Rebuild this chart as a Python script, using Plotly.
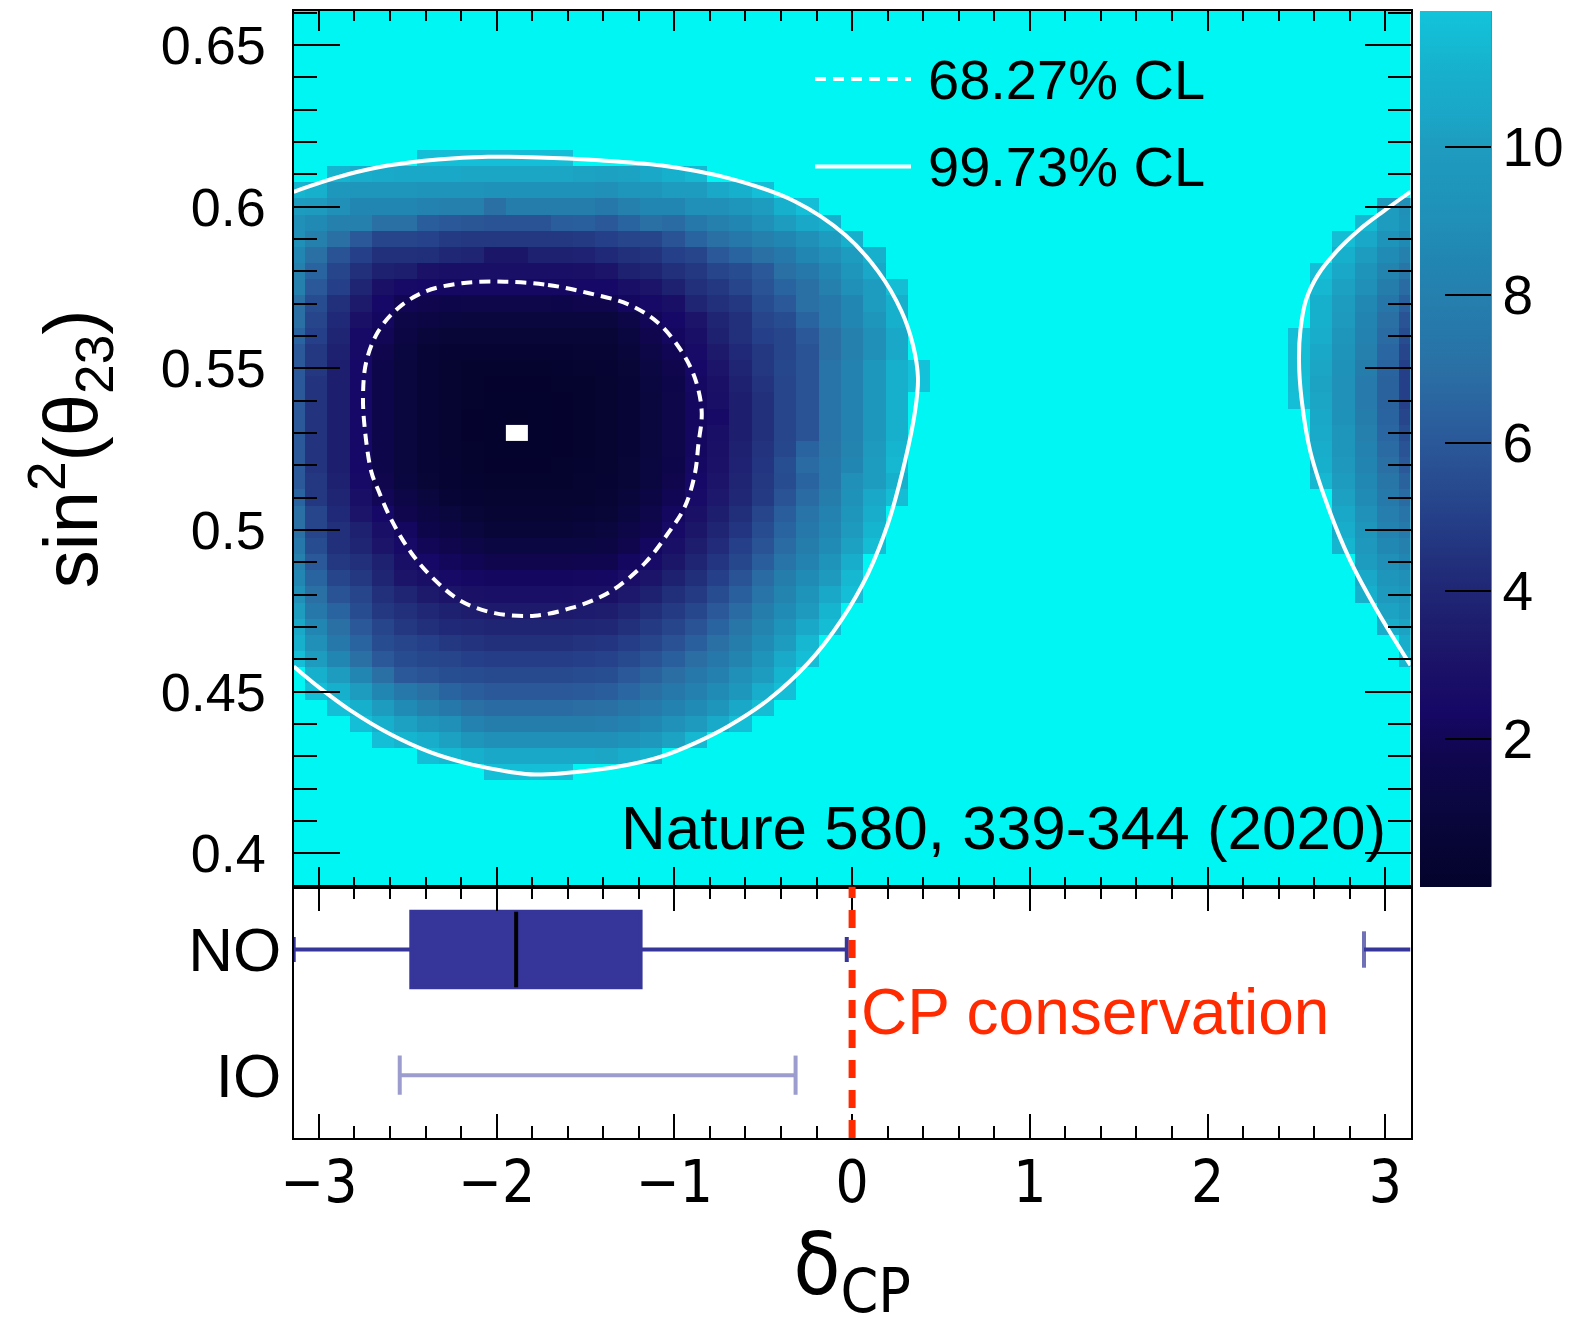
import numpy as np
import plotly.graph_objects as go

W, H = 1582, 1326
FONT = "Liberation Sans, Arial, Helvetica, sans-serif"
NARROW = "Liberation Sans Narrow, Arial Narrow, DejaVu Sans Condensed, Liberation Sans, sans-serif"
CYAN = "#00F6F2"
BOXBLUE = "#35359A"
IOCOLOR = "#9C9CCF"
RED = "#FF2A00"

# ---------------- data ----------------
# bin centres of the delta_CP x sin^2(theta23) grid
dcp_centers = np.linspace(-np.pi, np.pi, 51)
s23_centers = [round(0.39 + 0.005 * j, 3) for j in range(55)]

# delta chi^2 values (left region): y -> (first column, values)
left_rows = {
    0.615: (6, [11.6, 11.6, 11.6, 11.6, 11.6, 11.6, 11.6]),
    0.61: (2, [11.2, 10.8, 10.6, 10.5, 10.5, 10.5, 10.4, 10.4, 10.4, 10.4, 10.4, 10.3, 10.2, 10.3, 10.5, 11.0, 11.3]),
    0.605: (0, [11.2, 11.0, 9.6, 9.5, 9.5, 9.4, 9.3, 9.3, 9.3, 9.2, 9.2, 9.2, 9.2, 9.2, 9.0, 9.4, 9.5, 10.0, 10.0, 10.5, 11.0, 11.6]),
    0.6: (0, [10.0, 9.8, 9.0, 8.5, 8.5, 8.5, 8.2, 8.0, 8.0, 7.0, 7.8, 7.8, 7.8, 7.8, 7.5, 8.0, 8.5, 8.5, 9.0, 9.0, 9.5, 10.0, 11.0, 11.6]),
    0.595: (0, [9.0, 8.7, 8.0, 8.0, 7.0, 7.0, 6.2, 6.0, 5.9, 5.8, 5.8, 5.8, 6.2, 6.3, 6.0, 6.5, 7.0, 6.8, 7.5, 8.0, 8.5, 9.0, 10.0, 10.5, 11.0]),
    0.59: (0, [9.0, 8.0, 7.0, 6.0, 5.2, 5.2, 5.1, 4.8, 4.7, 4.7, 4.7, 4.7, 4.7, 4.8, 5.0, 5.2, 5.2, 5.8, 6.5, 7.0, 7.5, 8.0, 8.5, 9.0, 10.0, 11.0]),
    0.585: (0, [8.5, 7.0, 5.8, 5.0, 4.4, 4.4, 4.3, 4.0, 3.9, 3.2, 3.2, 3.7, 3.7, 3.8, 4.1, 4.4, 4.5, 5.0, 5.2, 6.0, 6.5, 7.0, 7.5, 8.5, 9.0, 10.0, 11.0]),
    0.58: (0, [8.0, 6.5, 5.2, 4.4, 3.7, 3.6, 3.0, 2.8, 2.8, 2.8, 2.8, 2.8, 2.8, 2.9, 3.1, 3.7, 3.9, 4.4, 4.7, 5.2, 5.5, 6.0, 7.0, 7.5, 8.5, 9.5, 10.5]),
    0.575: (0, [8.0, 6.0, 5.0, 3.9, 2.9, 2.5, 2.4, 2.3, 2.3, 2.3, 2.3, 2.3, 2.3, 2.4, 2.4, 2.8, 3.1, 3.7, 4.4, 4.7, 5.2, 5.8, 6.5, 7.0, 8.0, 9.0, 10.0, 11.5]),
    0.57: (0, [7.0, 5.5, 4.4, 3.4, 2.4, 1.9, 1.7, 1.6, 1.5, 1.5, 1.5, 1.5, 1.6, 1.7, 1.7, 2.2, 2.5, 2.8, 3.9, 4.4, 4.7, 5.5, 6.0, 7.0, 7.5, 8.5, 10.0, 11.0]),
    0.565: (0, [7.0, 5.2, 4.1, 2.9, 2.2, 1.4, 1.3, 1.1, 1.0, 1.0, 1.0, 1.0, 1.0, 1.0, 1.0, 1.4, 2.0, 2.4, 3.1, 3.9, 4.4, 5.2, 5.5, 6.5, 7.5, 8.5, 9.5, 11.0]),
    0.56: (0, [6.5, 5.0, 3.9, 2.5, 2.0, 1.3, 0.9, 0.7, 0.7, 0.7, 0.7, 0.7, 0.7, 0.7, 0.7, 1.1, 1.7, 2.2, 2.8, 3.7, 4.4, 5.0, 5.2, 6.0, 7.0, 8.0, 9.0, 10.5]),
    0.555: (0, [6.0, 4.7, 3.7, 2.5, 1.7, 1.1, 0.6, 0.4, 0.4, 0.4, 0.4, 0.4, 0.4, 0.45, 0.5, 0.9, 1.4, 1.9, 2.6, 3.4, 4.1, 4.7, 5.2, 5.8, 7.0, 8.0, 9.0, 10.5]),
    0.55: (0, [6.0, 4.7, 3.6, 2.4, 1.6, 1.0, 0.6, 0.3, 0.2, 0.2, 0.2, 0.2, 0.25, 0.3, 0.4, 0.7, 1.2, 1.7, 2.4, 3.1, 3.9, 4.7, 5.3, 5.8, 7.2, 8.2, 9.6, 11.0, 11.7]),
    0.545: (0, [6.0, 4.5, 3.6, 2.4, 1.6, 1.0, 0.6, 0.35, 0.2, 0.1, 0.1, 0.1, 0.15, 0.2, 0.3, 0.6, 1.1, 1.6, 2.3, 2.9, 3.7, 4.5, 5.2, 5.8, 7.2, 8.2, 9.6, 11.0, 11.7]),
    0.54: (0, [6.0, 4.5, 3.6, 2.4, 1.6, 1.0, 0.6, 0.35, 0.15, 0.05, 0.05, 0.05, 0.1, 0.2, 0.3, 0.6, 1.0, 1.5, 2.2, 2.8, 3.6, 4.4, 5.2, 5.8, 7.2, 8.2, 9.6, 11.0]),
    0.535: (0, [6.0, 4.5, 3.6, 2.4, 1.6, 1.0, 0.6, 0.3, 0.1, 0.05, 0.02, 0.05, 0.1, 0.2, 0.3, 0.6, 1.0, 1.5, 2.2, 2.5, 3.6, 4.4, 5.2, 5.8, 7.2, 8.2, 9.6, 11.0]),
    0.53: (0, [6.0, 4.5, 3.6, 2.4, 1.6, 1.0, 0.6, 0.3, 0.1, 0.05, 0.0, 0.05, 0.1, 0.2, 0.3, 0.6, 1.0, 1.5, 2.2, 2.8, 3.6, 4.4, 5.2, 5.8, 7.2, 8.2, 9.6, 11.0]),
    0.525: (0, [6.0, 4.5, 3.6, 2.4, 1.6, 1.0, 0.6, 0.35, 0.15, 0.05, 0.05, 0.05, 0.1, 0.2, 0.3, 0.6, 1.0, 1.5, 2.2, 2.9, 3.7, 4.5, 5.3, 6.5, 7.3, 8.3, 9.8, 11.2]),
    0.52: (0, [6.0, 4.5, 3.6, 2.4, 1.6, 1.0, 0.6, 0.4, 0.2, 0.1, 0.1, 0.1, 0.15, 0.25, 0.3, 0.7, 1.1, 1.6, 2.3, 3.0, 3.8, 4.6, 5.6, 6.8, 7.5, 8.5, 10.0, 11.3]),
    0.515: (0, [6.0, 4.7, 3.7, 2.5, 1.7, 1.1, 0.7, 0.4, 0.25, 0.15, 0.15, 0.15, 0.2, 0.3, 0.4, 0.7, 1.1, 1.7, 2.4, 3.1, 3.9, 4.7, 5.5, 6.5, 7.5, 9.0, 10.0, 11.0]),
    0.51: (0, [6.5, 4.7, 3.9, 2.8, 2.0, 1.4, 1.0, 0.6, 0.4, 0.3, 0.3, 0.3, 0.3, 0.35, 0.5, 0.9, 1.3, 1.9, 2.6, 3.3, 4.0, 4.8, 5.8, 6.8, 7.8, 9.2, 10.5, 11.5]),
    0.505: (0, [7.0, 5.2, 4.1, 3.1, 2.4, 1.7, 1.3, 1.0, 0.7, 0.5, 0.5, 0.5, 0.5, 0.6, 0.7, 1.1, 1.5, 2.2, 2.9, 3.6, 4.3, 5.2, 6.2, 7.2, 8.2, 9.5, 10.8]),
    0.5: (0, [7.0, 5.2, 4.4, 3.7, 2.8, 2.2, 1.6, 1.3, 1.0, 0.8, 0.8, 0.8, 0.8, 0.9, 1.0, 1.4, 1.8, 2.5, 3.2, 3.9, 4.6, 5.5, 6.5, 7.5, 8.5, 9.8, 11.2]),
    0.495: (0, [7.5, 5.5, 4.4, 3.9, 3.1, 2.5, 2.0, 1.7, 1.4, 1.2, 1.2, 1.2, 1.2, 1.25, 1.3, 1.7, 2.2, 2.8, 3.5, 4.2, 5.0, 5.8, 6.8, 7.8, 8.8, 10.2, 11.5]),
    0.49: (0, [8.0, 6.0, 4.7, 4.4, 3.7, 2.8, 2.4, 2.1, 1.9, 1.7, 1.7, 1.7, 1.7, 1.75, 1.8, 2.2, 2.6, 3.2, 3.9, 4.6, 5.3, 6.2, 7.2, 8.2, 9.3, 10.8]),
    0.485: (0, [8.5, 6.5, 5.2, 4.7, 3.9, 3.1, 2.8, 2.5, 2.3, 2.2, 2.2, 2.2, 2.2, 2.25, 2.3, 2.7, 3.1, 3.7, 4.3, 5.0, 5.8, 6.8, 7.8, 8.8, 9.8, 11.3]),
    0.48: (0, [9.0, 7.0, 5.8, 5.2, 4.4, 3.9, 3.4, 3.1, 2.9, 2.8, 2.8, 2.8, 2.8, 2.85, 2.9, 3.3, 3.7, 4.3, 4.8, 5.5, 6.3, 7.2, 8.3, 9.3, 10.5, 11.6]),
    0.475: (0, [10.0, 7.5, 6.5, 5.5, 4.7, 4.4, 4.0, 3.7, 3.5, 3.4, 3.4, 3.4, 3.4, 3.45, 3.5, 3.9, 4.3, 4.8, 5.3, 6.0, 6.8, 7.8, 8.8, 9.8, 11.2]),
    0.47: (0, [10.5, 8.5, 7.0, 6.0, 5.2, 4.7, 4.4, 4.1, 4.0, 3.9, 3.9, 3.9, 3.9, 3.95, 4.0, 4.4, 4.8, 5.2, 5.8, 6.5, 7.3, 8.3, 9.3, 10.5, 11.5]),
    0.465: (0, [11.0, 9.0, 7.5, 6.5, 5.5, 5.2, 5.0, 4.7, 4.5, 4.4, 4.4, 4.4, 4.4, 4.5, 4.6, 4.9, 5.2, 5.7, 6.3, 7.0, 7.8, 8.8, 10.0, 11.3]),
    0.46: (0, [11.6, 10.0, 8.5, 7.0, 6.0, 5.5, 5.3, 5.2, 5.0, 4.9, 4.9, 4.9, 4.9, 5.0, 5.1, 5.4, 5.8, 6.3, 6.9, 7.5, 8.3, 9.3, 10.6, 11.6]),
    0.455: (1, [11.0, 10.0, 8.5, 7.0, 6.0, 5.8, 5.6, 5.5, 5.4, 5.4, 5.4, 5.4, 5.5, 5.6, 6.0, 6.4, 6.9, 7.5, 8.1, 9.0, 10.0, 11.2]),
    0.45: (1, [11.6, 11.0, 10.0, 8.5, 7.5, 7.0, 6.5, 6.2, 6.0, 6.0, 6.0, 6.0, 6.1, 6.2, 6.6, 7.0, 7.5, 8.1, 8.8, 9.6, 10.8, 11.6]),
    0.445: (2, [11.6, 11.0, 10.0, 8.8, 8.0, 7.5, 7.0, 6.8, 6.8, 6.8, 6.8, 6.9, 7.0, 7.3, 7.7, 8.2, 8.8, 9.5, 10.5, 11.5]),
    0.44: (3, [11.6, 11.0, 10.2, 9.5, 9.0, 8.2, 7.8, 7.8, 7.8, 7.8, 7.8, 7.9, 8.2, 8.6, 9.1, 9.8, 10.6, 11.6]),
    0.435: (4, [11.6, 11.2, 10.8, 10.2, 9.5, 9.0, 9.0, 9.0, 9.0, 9.0, 9.0, 9.3, 9.7, 10.3, 11.3]),
    0.43: (6, [11.6, 11.3, 11.0, 10.5, 10.5, 10.5, 10.5, 10.5, 10.4, 10.8, 11.2]),
    0.425: (9, [11.6, 11.6, 11.6, 11.6]),
}

# right-hand region (wrapping round delta_CP = +pi)
right_rows = {
    0.6: (49, [10.0, 9.0]),
    0.595: (48, [11.3, 10.0, 9.2]),
    0.59: (47, [11.5, 10.5, 9.3, 8.7]),
    0.585: (47, [11.0, 10.0, 8.8, 8.0]),
    0.58: (46, [11.6, 10.5, 9.3, 8.3, 7.3]),
    0.575: (46, [11.3, 10.2, 9.0, 7.8, 6.8]),
    0.57: (46, [11.0, 10.0, 8.6, 7.4, 6.3]),
    0.565: (46, [11.0, 9.8, 8.4, 7.0, 5.8]),
    0.56: (45, [11.6, 10.8, 9.5, 8.2, 6.8, 5.5]),
    0.555: (45, [11.5, 10.5, 9.3, 8.0, 6.6, 5.2]),
    0.55: (45, [11.4, 10.4, 9.2, 7.8, 6.5, 5.0]),
    0.545: (45, [11.5, 10.3, 9.1, 7.7, 6.4, 5.0]),
    0.54: (45, [11.6, 10.4, 9.1, 7.7, 6.4, 5.0]),
    0.535: (46, [10.5, 9.2, 7.8, 6.5, 5.2]),
    0.53: (46, [10.6, 9.4, 8.0, 6.6, 5.5]),
    0.525: (46, [10.8, 9.5, 8.2, 6.8, 5.8]),
    0.52: (46, [11.0, 9.7, 8.4, 7.0, 6.0]),
    0.515: (46, [11.3, 10.0, 8.6, 7.3, 6.4]),
    0.51: (47, [10.2, 8.8, 7.6, 6.8]),
    0.505: (47, [10.5, 9.1, 7.9, 7.2]),
    0.5: (47, [10.8, 9.4, 8.2, 7.6]),
    0.495: (47, [11.2, 9.7, 8.6, 8.0]),
    0.49: (48, [10.0, 9.0, 8.5]),
    0.485: (48, [10.5, 9.4, 9.0]),
    0.48: (48, [11.0, 9.8, 9.4]),
    0.475: (49, [10.3, 9.8]),
    0.47: (49, [10.8, 10.3]),
    0.465: (50, [10.8]),
    0.46: (50, [11.3]),
}

bestfit_dcp = -1.885
bestfit_s23 = 0.53

# 99.73% CL contour (left island)
cl99_left_x = [-3.1416, -2.9879, -2.8360, -2.6110, -2.3297, -2.0484, -1.7671, -1.4464, -1.0712, -0.6965,
               -0.3212, -0.0399, 0.1474, 0.2790, 0.3426, 0.3707, 0.3539, 0.2968, 0.2034, 0.0911,
               -0.0585, -0.2464, -0.4714, -0.6965, -0.8838, -1.0712, -1.2591, -1.4464, -1.7840,
               -1.9246, -2.1497, -2.3747, -2.5998, -2.8248, -2.9936, -3.1416]
cl99_left_y = [0.6046, 0.6075, 0.6100, 0.6127, 0.6146, 0.6154, 0.6152, 0.6144, 0.6127, 0.6088,
               0.6016, 0.5913, 0.5799, 0.5675, 0.5572, 0.5470, 0.5366, 0.5211, 0.5022, 0.4867,
               0.4723, 0.4589, 0.4475, 0.4393, 0.4341, 0.4300, 0.4274, 0.4258, 0.4244,
               0.4252, 0.4276, 0.4313, 0.4369, 0.4443, 0.4511, 0.4578]
# 99.73% CL contour (right island)
cl99_right_x = [3.1416, 2.9924, 2.8518, 2.7280, 2.6211, 2.5536, 2.5226, 2.5142, 2.5294, 2.5761,
                2.6700, 2.8011, 2.9513, 3.1416]
cl99_right_y = [0.6046, 0.5987, 0.5928, 0.5863, 0.5789, 0.5711, 0.5619, 0.5526, 0.5402, 0.5247,
                0.5083, 0.4907, 0.4753, 0.4582]
# 68.27% CL contour
cl68_x = [-1.9550, -1.7108, -1.4858, -1.2591, -1.0903, -0.9587, -0.8838, -0.8461, -0.8653, -0.8838,
          -0.9401, -1.0340, -1.1651, -1.3153, -1.4279, -1.5797, -1.7857, -2.0107, -2.1986, -2.3483,
          -2.4799, -2.5924, -2.6672, -2.7049, -2.7420, -2.7516, -2.7331, -2.6672, -2.5547, -2.4045,
          -2.1986, -1.9550]
cl68_y = [0.5768, 0.5758, 0.5733, 0.5698, 0.5640, 0.5552, 0.5469, 0.5366, 0.5263, 0.5176,
          0.5073, 0.4991, 0.4898, 0.4826, 0.4790, 0.4759, 0.4735, 0.4743, 0.4780, 0.4846,
          0.4929, 0.5032, 0.5125, 0.5180, 0.5315, 0.5418, 0.5521, 0.5613, 0.5686, 0.5737,
          0.5763, 0.5768]

# lower panel: delta_CP intervals
orderings = ["NO", "IO"]
no_q1, no_median, no_q3 = -2.48, -1.89, -1.19
no_low, no_high = -np.pi, -0.03
no_wrap = [2.88, np.pi]
io_interval = [-2.545, -0.318]
cp_conserving = 0.0

cbar_ticks = [2, 4, 6, 8, 10]
zmax = 11.83

# ---------------- build z grid ----------------
z = [[None] * len(dcp_centers) for _ in s23_centers]
for rows in (left_rows, right_rows):
    for yv, (k0, vals) in rows.items():
        j = s23_centers.index(round(yv, 3))
        for i, v in enumerate(vals):
            z[j][k0 + i] = v

cs_vals = [0.0, 0.6, 1.2, 1.8, 2.4, 3.1, 3.7, 4.4, 5.0, 5.5, 6.0, 6.5, 7.0, 7.5, 8.0, 8.5, 9.0, 9.5, 10.0, 10.5, 11.0, 11.83]
cs_cols = ["#04032c", "#070535", "#0b0742", "#100650", "#160866", "#1c1468", "#1e2070", "#22307c",
           "#254088", "#284c90", "#2a5898", "#2a64a0", "#2a70a5", "#2678aa", "#2580ae", "#2186b2",
           "#2090b8", "#1e96bc", "#1e9cbf", "#1aa8c8", "#17b0cc", "#12c4da"]
colorscale = [[v / zmax, c] for v, c in zip(cs_vals, cs_cols)]

# ---------------- layout geometry (pixels) ----------------
fx0, fx1 = 293.7, 1410.5
top_y0, top_y1 = 11.0, 886.7
bot_y1 = 1138.0
px = lambda p: p / W
py = lambda p: 1 - p / H

fig = go.Figure()

fig.add_trace(go.Heatmap(
    x=dcp_centers, y=s23_centers, z=z, zmin=0, zmax=zmax, colorscale=colorscale,
    zsmooth=False, hoverinfo="skip", xaxis="x", yaxis="y",
    colorbar=dict(x=px(1419.5), xanchor="left", xpad=0, y=py(top_y0), yanchor="top", ypad=0,
                  len=(top_y1 - top_y0) / H, lenmode="fraction", thickness=71, thicknessmode="pixels",
                  outlinewidth=0, tickvals=cbar_ticks, ticks="inside", ticklen=46, tickwidth=2,
                  tickcolor="black", tickfont=dict(family=FONT, size=55, color="black")),
))
fig.add_trace(go.Heatmap(
    z=[[1]], x0=bestfit_dcp, dx=2 * np.pi / 50, y0=bestfit_s23, dy=0.005,
    colorscale=[[0, "white"], [1, "white"]], showscale=False, hoverinfo="skip", xaxis="x", yaxis="y"))

spline = dict(shape="spline", smoothing=1.0)
fig.add_trace(go.Scatter(x=cl99_left_x, y=cl99_left_y, mode="lines", line=dict(color="white", width=4, **spline),
                         showlegend=False, hoverinfo="skip", xaxis="x", yaxis="y"))
fig.add_trace(go.Scatter(x=cl99_right_x, y=cl99_right_y, mode="lines", line=dict(color="white", width=4, **spline),
                         showlegend=False, hoverinfo="skip", xaxis="x", yaxis="y"))
fig.add_trace(go.Scatter(x=cl68_x, y=cl68_y, mode="lines", line=dict(color="white", width=4, dash="11px,7px", **spline),
                         showlegend=False, hoverinfo="skip", xaxis="x", yaxis="y"))

# NO box
fig.add_trace(go.Box(y=[0], q1=[no_q1], median=[no_median], q3=[no_q3], lowerfence=[no_low], upperfence=[no_high],
                     orientation="h", width=0.6, whiskerwidth=0.33, fillcolor=BOXBLUE,
                     line=dict(color=BOXBLUE, width=4), boxpoints=False, showlegend=False, hoverinfo="skip",
                     xaxis="x2", yaxis="y2"))
fig.add_trace(go.Box(y=[0], q1=[no_median], median=[no_median], q3=[no_median], lowerfence=[no_median], upperfence=[no_median],
                     orientation="h", width=0.6, fillcolor="black", line=dict(color="black", width=4),
                     boxpoints=False, showlegend=False, hoverinfo="skip", xaxis="x2", yaxis="y2"))
fig.add_trace(go.Scatter(x=no_wrap, y=[0, 0], mode="lines+markers", line=dict(color=BOXBLUE, width=4),
                         marker=dict(symbol="line-ns", size=[26, 0], line=dict(color=BOXBLUE, width=4)),
                         showlegend=False, hoverinfo="skip", xaxis="x2", yaxis="y2"))
fig.add_trace(go.Scatter(x=io_interval, y=[1, 1], mode="lines+markers", line=dict(color=IOCOLOR, width=4),
                         marker=dict(symbol="line-ns", size=28, line=dict(color=IOCOLOR, width=4)),
                         showlegend=False, hoverinfo="skip", xaxis="x2", yaxis="y2"))

tick_common = dict(ticks="inside", tickwidth=2, tickcolor="black", showline=True, linecolor="black",
                   linewidth=2, showgrid=False, zeroline=False)

fig.update_layout(
    width=W, height=H, margin=dict(l=0, r=0, t=0, b=0, autoexpand=False),
    paper_bgcolor="white", plot_bgcolor="white",
    font=dict(family=FONT, color="black"), boxmode="overlay", showlegend=False,
    xaxis=dict(domain=[px(fx0), px(fx1)], range=[-np.pi, np.pi], anchor="y", showticklabels=False,
               tickmode="linear", tick0=0, dtick=1, ticklen=20, mirror="allticks",
               minor=dict(ticks="inside", tick0=0, dtick=0.2, ticklen=10, tickwidth=2, tickcolor="black"),
               **tick_common),
    yaxis=dict(domain=[py(top_y1), py(top_y0)], range=[0.3897, 0.6605], anchor="x",
               tickmode="linear", tick0=0, dtick=0.05, tickformat=".2~f", ticklen=46, mirror="allticks",
               minor=dict(ticks="inside", tick0=0, dtick=0.01, ticklen=23, tickwidth=2, tickcolor="black"),
               tickfont=dict(family=FONT, size=54), ticklabelstandoff=15,
               title=dict(text="sin<sup>2</sup>(θ<sub>23</sub>)", font=dict(family=FONT, size=76, color="black"), standoff=38),
               **tick_common),
    xaxis2=dict(domain=[px(fx0), px(fx1)], range=[-np.pi, np.pi], anchor="y2",
                tickmode="linear", tick0=0, dtick=1, ticklen=24, mirror="allticks",
                minor=dict(ticks="inside", tick0=0, dtick=0.2, ticklen=12, tickwidth=2, tickcolor="black"),
                tickfont=dict(family=NARROW, size=58), ticklabelstandoff=-8,
                title=dict(text="δ<sub>CP</sub>", font=dict(family=NARROW, size=86, color="black"), standoff=26),
                **tick_common),
    yaxis2=dict(domain=[py(bot_y1), py(top_y1)], range=[1.5, -0.5], anchor="x2",
                tickmode="array", tickvals=[0, 1], ticktext=orderings, ticks="", showline=True,
                linecolor="black", linewidth=2, mirror=True, showgrid=False, zeroline=False,
                tickfont=dict(family=FONT, size=62), ticklabelstandoff=-2),
)

shapes = [
    dict(type="rect", xref="x domain", yref="y domain", x0=0, x1=1, y0=0, y1=1,
         fillcolor=CYAN, line=dict(width=0), layer="below"),
    dict(type="line", xref="x2", yref="y2 domain", x0=cp_conserving, x1=cp_conserving, y0=0, y1=1,
         line=dict(color=RED, width=7, dash="18px,12px")),
    dict(type="line", xref="paper", yref="paper", x0=px(1490.5), x1=px(1490.5), y0=py(top_y1), y1=py(top_y0),
         line=dict(color="black", width=2)),
    # legend samples
    dict(type="line", xref="paper", yref="paper", x0=px(815), x1=px(911), y0=py(79), y1=py(79),
         line=dict(color="white", width=4, dash="11px,7px")),
    dict(type="line", xref="paper", yref="paper", x0=px(815), x1=px(911), y0=py(166.5), y1=py(166.5),
         line=dict(color="white", width=4)),
]
fig.update_layout(shapes=shapes)

annotations = [
    dict(text="68.27% CL", x=px(926), y=py(79), xanchor="left", yanchor="middle", font=dict(size=56)),
    dict(text="99.73% CL", x=px(926), y=py(166.5), xanchor="left", yanchor="middle", font=dict(size=56)),
    dict(text="Nature 580, 339-344 (2020)", x=px(1388), y=py(827), xanchor="right", yanchor="middle", font=dict(size=62)),
    dict(text="CP conservation", x=px(859), y=py(1012), xanchor="left", yanchor="middle", font=dict(size=64, color=RED)),
]
for a in annotations:
    a.update(xref="paper", yref="paper", showarrow=False)
fig.update_layout(annotations=annotations)

fig.write_html("out.html")
